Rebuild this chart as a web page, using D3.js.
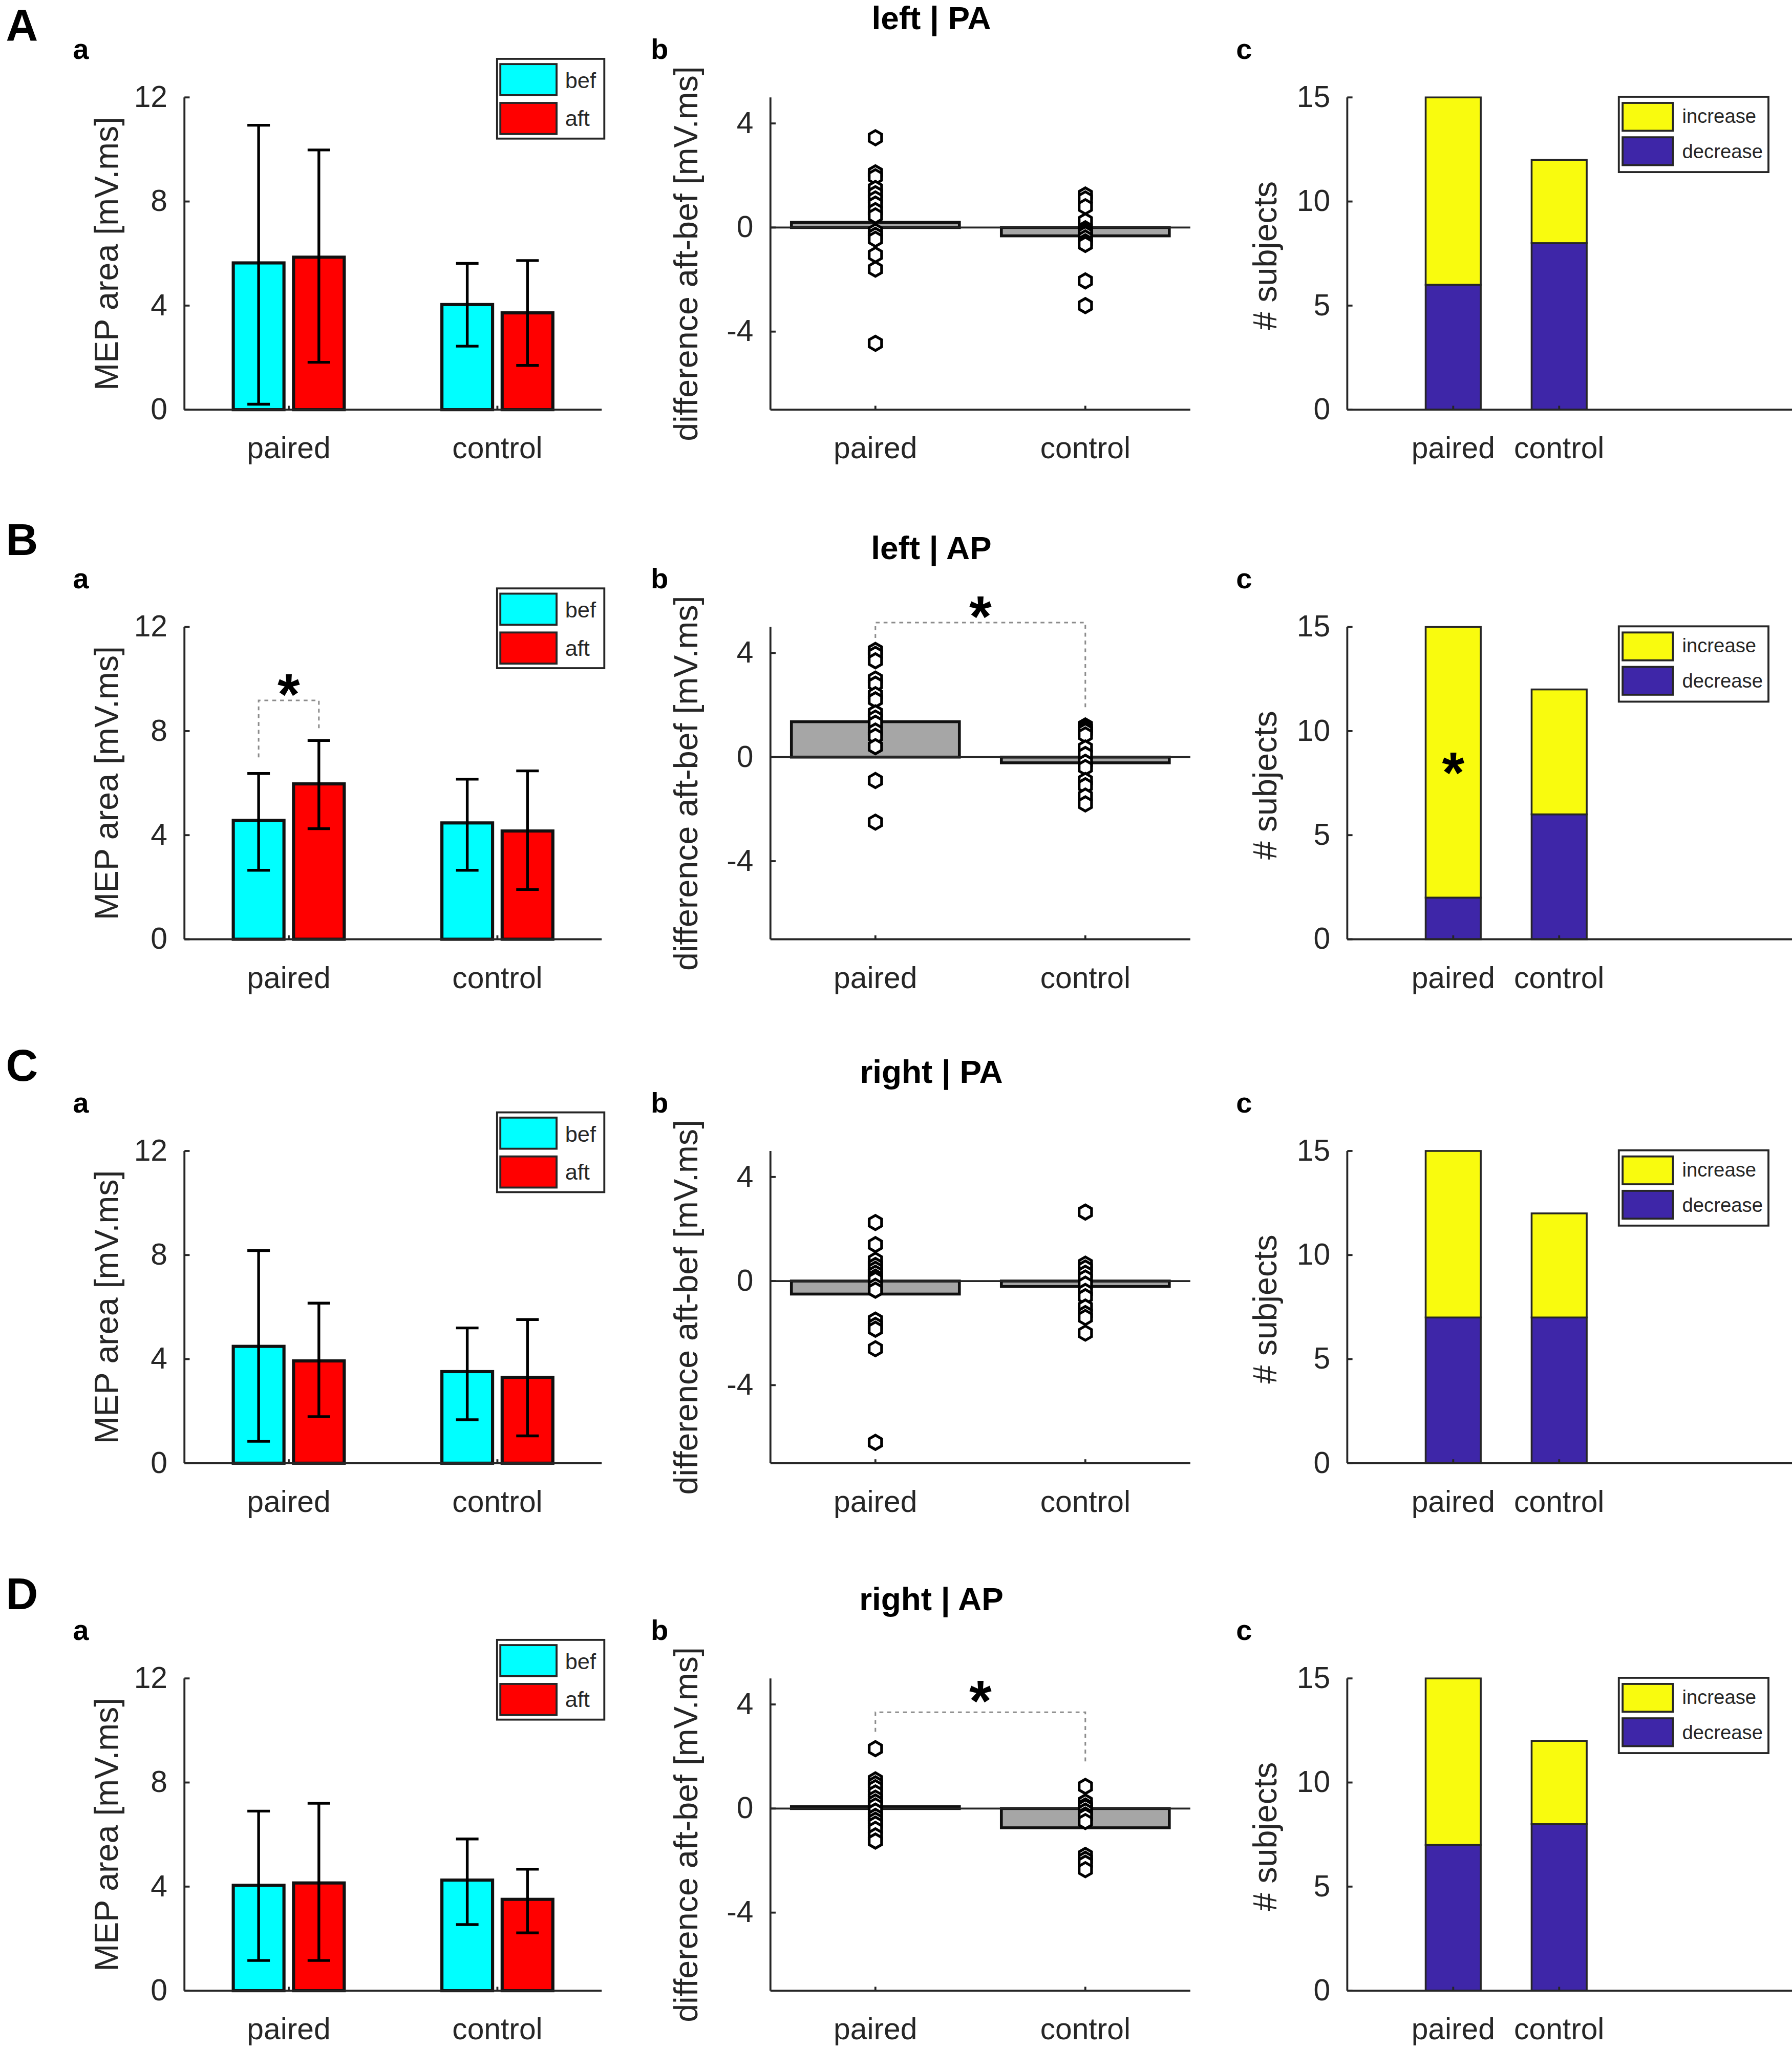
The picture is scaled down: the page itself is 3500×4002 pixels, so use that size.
<!DOCTYPE html>
<html>
<head>
<meta charset="utf-8">
<script src="https://cdn.jsdelivr.net/npm/d3@7"></script>
<style>
  body { margin: 0; background: #ffffff; }
  svg { display: block; }
</style>
</head>
<body>
<svg id="chart" width="3500" height="4002" viewBox="0 0 1370 1567" preserveAspectRatio="none"></svg>
<script>
// ---------------- DATA ----------------
const categories   = ["paired", "control"];
const conditions   = ["bef", "aft"];
const changeTypes  = ["increase", "decrease"];
const rowLetters   = ["A", "B", "C", "D"];
const rowTitles    = ["left | PA", "left | AP", "right | PA", "right | AP"];
const mepTicks     = [0, 4, 8, 12];
const diffTicks    = [-4, 0, 4];
const countTicks   = [0, 5, 10, 15];

// MEP area, per row: [paired, control]
const mepBef      = [[5.64, 4.04], [4.57, 4.47], [4.49, 3.52], [4.05, 4.25]];
const mepAft      = [[5.86, 3.72], [5.97, 4.16], [3.93, 3.30], [4.14, 3.51]];
const mepBefLow   = [[0.21, 2.44], [2.65, 2.65], [0.84, 1.67], [1.16, 2.54]];
const mepBefHigh  = [[10.93, 5.62], [6.37, 6.15], [8.17, 5.20], [6.90, 5.83]];
const mepAftLow   = [[1.82, 1.70], [4.25, 1.91], [1.79, 1.05], [1.16, 2.22]];
const mepAftHigh  = [[9.98, 5.73], [7.64, 6.47], [6.15, 5.52], [7.20, 4.67]];

// differences aft-bef, individual subjects
const diffPaired = [
  [3.45, 2.1, 1.95, 1.5, 1.3, 1.1, 0.9, 0.65, 0.45, -0.15, -0.3, -0.45, -1.05, -1.6, -4.45],
  [4.1, 3.95, 3.7, 3.0, 2.8, 2.4, 2.2, 1.7, 1.5, 1.3, 1.0, 0.8, 0.4, -0.9, -2.5],
  [2.25, 1.4, 0.8, 0.6, 0.45, 0.3, 0.15, 0.05, -0.2, -0.35, -1.5, -1.7, -1.85, -2.6, -6.2],
  [2.3, 1.1, 0.95, 0.8, 0.6, 0.4, 0.25, 0.1, -0.1, -0.3, -0.45, -0.6, -0.8, -1.05, -1.25]
];
const diffControl = [
  [1.25, 1.1, 0.8, 0.25, -0.05, -0.15, -0.25, -0.4, -0.55, -0.65, -2.05, -3.0],
  [1.2, 1.1, 1.0, 0.85, 0.35, 0.1, -0.2, -0.4, -0.9, -1.1, -1.5, -1.8],
  [2.65, 0.65, 0.5, 0.3, 0.12, -0.12, -0.4, -0.6, -1.0, -1.25, -1.4, -2.0],
  [0.85, 0.25, 0.1, 0.05, -0.1, -0.25, -0.3, -0.5, -1.8, -1.95, -2.1, -2.35]
];
const diffMean = [[0.2, -0.32], [1.36, -0.22], [-0.5, -0.21], [0.07, -0.74]];

// number of subjects, per row: [paired, control]
const increaseCount = [[9, 4], [13, 6], [8, 5], [8, 4]];
const decreaseCount = [[6, 8], [2, 6], [7, 7], [7, 8]];

// significance markers (data coordinates)
const sigMep   = [null, { y: 9.18, yLeft: 6.99, yRight: 8.11, star: 9.75 }, null, null];
const sigDiff  = [null, { y: 5.17, yLeft: 4.58, yRight: 1.87, star: 5.74 }, null,
                  { y: 3.70, yLeft: 2.95, yRight: 1.81, star: 4.48 }];
const sigCount = [null, { star: 8.43 }, null, null];

// ---------------- STYLE / LAYOUT ----------------
const FONT = "'Liberation Sans', Arial, Helvetica, sans-serif";
const INK = "#262626";
const condColors = { bef: "#00ffff", aft: "#ff0000" };
const changeColors = { increase: "#f9fb0e", decrease: "#3e26a8" };
const rowTop = [74.5, 479.5, 880.2, 1283.6];
const plotH = 238.8;
const letterBase = [31, 424.5, 826.5, 1230.5];

const svg = d3.select("#chart");
svg.append("rect").attr("width", 1370).attr("height", 1567).attr("fill", "#fff");

function styleAxis(g) {
  g.select(".domain").attr("stroke", INK).attr("stroke-width", 1.5);
  g.selectAll(".tick line").attr("stroke", INK).attr("stroke-width", 1.5);
  g.selectAll(".tick text").attr("fill", INK).attr("font-size", 23).attr("font-family", FONT);
}

function yAxis(g, y, ticks, x0) {
  const ax = g.append("g").attr("transform", `translate(${x0},0)`)
    .call(d3.axisLeft(y).tickValues(ticks).tickFormat(d => String(d))
      .tickSizeInner(-4).tickSizeOuter(0).tickPadding(13).offset(0));
  styleAxis(ax);
}

function xAxis(g, x, y0) {
  const ax = g.append("g").attr("transform", `translate(0,${y0})`)
    .call(d3.axisBottom(x).tickValues([1, 2]).tickFormat((d, i) => categories[i])
      .tickSizeInner(-3).tickSizeOuter(0).tickPadding(21).offset(0));
  styleAxis(ax);
}

function yLabel(g, text, x, yc) {
  g.append("text")
    .attr("transform", `translate(${x},${yc}) rotate(-90)`)
    .attr("text-anchor", "middle")
    .attr("font-family", FONT).attr("font-size", 25.3).attr("fill", INK)
    .text(text);
}

function star(g, x, yCenter) {
  g.append("text").attr("x", x).attr("y", yCenter + 22)
    .attr("text-anchor", "middle").attr("font-family", FONT)
    .attr("font-weight", "bold").attr("font-size", 44).attr("fill", "#000")
    .text("*");
}

function bracket(g, xl, xr, y, yl, yr) {
  g.append("path")
    .attr("d", `M${xl},${yl}V${y}H${xr}V${yr}`)
    .attr("fill", "none").attr("stroke", "#8c8c8c").attr("stroke-width", 1.2)
    .attr("stroke-dasharray", "3,3");
}

// hexagon-like marker (MATLAB 'o' as rendered)
const hexagon = {
  draw(ctx, size) {
    const r = Math.sqrt(2 * size / (3 * Math.sqrt(3)));
    for (let k = 0; k < 6; k++) {
      const a = Math.PI / 2 + k * Math.PI / 3;
      const px = r * Math.cos(a), py = r * Math.sin(a);
      if (k === 0) ctx.moveTo(px, py); else ctx.lineTo(px, py);
    }
    ctx.closePath();
  }
};

// ---------------- PANEL a ----------------
function drawMep(g, r, top, bottom) {
  const x = d3.scaleLinear([0.5, 2.5], [141, 460]);
  const y = d3.scaleLinear([0, 12], [bottom, top]);
  const offsets = { bef: -0.1444, aft: 0.1444 };
  const barW = 0.243, capW = 0.054;
  const series = [
    { key: "bef", mean: mepBef[r], lo: mepBefLow[r], hi: mepBefHigh[r] },
    { key: "aft", mean: mepAft[r], lo: mepAftLow[r], hi: mepAftHigh[r] }
  ];
  series.forEach(s => {
    const items = categories.map((c, i) => ({ i, m: s.mean[i] }));
    g.selectAll(null).data(items).enter().append("rect")
      .attr("x", d => x(d.i + 1 + offsets[s.key] - barW / 2))
      .attr("width", x(barW) - x(0))
      .attr("y", d => y(d.m))
      .attr("height", d => y(0) - y(d.m))
      .attr("fill", condColors[s.key]).attr("stroke", "#111").attr("stroke-width", 2.4);
  });
  series.forEach(s => {
    const items = categories.map((c, i) => ({ i, lo: s.lo[i], hi: s.hi[i] }));
    g.selectAll(null).data(items).enter().append("path")
      .attr("d", d => {
        const cx = x(d.i + 1 + offsets[s.key]);
        const hw = x(capW) - x(0);
        return `M${cx},${y(d.lo)}V${y(d.hi)}M${cx - hw},${y(d.hi)}H${cx + hw}M${cx - hw},${y(d.lo)}H${cx + hw}`;
      })
      .attr("fill", "none").attr("stroke", "#000").attr("stroke-width", 2.1);
  });
  yAxis(g, y, mepTicks, 141);
  xAxis(g, x, bottom);
  yLabel(g, "MEP area [mV.ms]", 90, top + 119.4);

  // legend
  const lg = g.append("g");
  lg.append("rect").attr("x", 380).attr("y", top - 29.5).attr("width", 82).attr("height", 61)
    .attr("fill", "#fff").attr("stroke", INK).attr("stroke-width", 1.5);
  conditions.forEach((c, k) => {
    lg.append("rect").attr("x", 382.5).attr("y", top - 25.5 + k * 29.7).attr("width", 43).attr("height", 23.8)
      .attr("fill", condColors[c]).attr("stroke", INK).attr("stroke-width", 1.5);
    lg.append("text").attr("x", 432).attr("y", top - 7.1 + k * 29).attr("font-family", FONT)
      .attr("font-size", 17).attr("fill", INK).text(c);
  });

  const sg = sigMep[r];
  if (sg) {
    bracket(g, x(1 + offsets.bef), x(1 + offsets.aft), y(sg.y), y(sg.yLeft), y(sg.yRight));
    star(g, x(1), y(sg.star));
  }
}

// ---------------- PANEL b ----------------
function drawDiff(g, r, top, bottom) {
  const x = d3.scaleLinear([0.5, 2.5], [589, 910]);
  const y = d3.scaleLinear([-7, 5], [bottom, top]);
  const barW = 0.8;
  const means = categories.map((c, i) => ({ i, m: diffMean[r][i] }));
  g.selectAll(null).data(means).enter().append("rect")
    .attr("x", d => x(d.i + 1 - barW / 2))
    .attr("width", x(barW) - x(0))
    .attr("y", d => y(Math.max(0, d.m)))
    .attr("height", d => Math.abs(y(0) - y(d.m)))
    .attr("fill", "#a6a6a6").attr("stroke", "#111").attr("stroke-width", 2.2);
  g.append("line").attr("x1", x(0.5)).attr("x2", x(2.5)).attr("y1", y(0)).attr("y2", y(0))
    .attr("stroke", INK).attr("stroke-width", 1.5);

  const pts = [];
  diffPaired[r].forEach(v => pts.push({ i: 0, v }));
  diffControl[r].forEach(v => pts.push({ i: 1, v }));
  const sym = d3.symbol().type(hexagon).size(78);
  g.selectAll(null).data(pts).enter().append("path")
    .attr("transform", d => `translate(${x(d.i + 1)},${y(d.v)})`)
    .attr("d", sym)
    .attr("fill", "#fff").attr("stroke", "#000").attr("stroke-width", 2.1);

  yAxis(g, y, diffTicks, 589);
  xAxis(g, x, bottom);
  yLabel(g, "difference aft-bef [mV.ms]", 533, top + 119.5);

  const sg = sigDiff[r];
  if (sg) {
    bracket(g, x(1), x(2), y(sg.y), y(sg.yLeft), y(sg.yRight));
    star(g, x(1.5), y(sg.star));
  }
}

// ---------------- PANEL c ----------------
function drawCount(g, r, top, bottom) {
  const x = d3.scaleLinear([0, 4.5], [1030, 1394.5]);
  const y = d3.scaleLinear([0, 15], [bottom, top]);
  const barW = 0.52;
  const table = categories.map((c, i) => ({ i, decrease: decreaseCount[r][i], increase: increaseCount[r][i] }));
  const stacked = d3.stack().keys(["decrease", "increase"])(table);
  stacked.forEach(layer => {
    g.selectAll(null).data(layer).enter().append("rect")
      .attr("x", d => x(d.data.i + 1 - barW / 2))
      .attr("width", x(barW) - x(0))
      .attr("y", d => y(d[1]))
      .attr("height", d => y(d[0]) - y(d[1]))
      .attr("fill", changeColors[layer.key]).attr("stroke", INK).attr("stroke-width", 1.4);
  });
  yAxis(g, y, countTicks, 1030);
  xAxis(g, x, bottom);
  yLabel(g, "# subjects", 976, top + 121);

  const lg = g.append("g");
  lg.append("rect").attr("x", 1237.6).attr("y", top - 0.5).attr("width", 114.4).attr("height", 57.6)
    .attr("fill", "#fff").attr("stroke", INK).attr("stroke-width", 1.5);
  changeTypes.forEach((c, k) => {
    lg.append("rect").attr("x", 1240.5).attr("y", top + 4.2 + k * 26.3).attr("width", 38.5).attr("height", 21.3)
      .attr("fill", changeColors[c]).attr("stroke", INK).attr("stroke-width", 1.5);
    lg.append("text").attr("x", 1286).attr("y", top + 19.5 + k * 27).attr("font-family", FONT)
      .attr("font-size", 15).attr("fill", INK).text(c);
  });

  const sg = sigCount[r];
  if (sg) star(g, x(1), y(sg.star));
}

// ---------------- ROWS ----------------
rowTitles.forEach((title, r) => {
  const top = rowTop[r], bottom = top + plotH;
  const g = svg.append("g");
  g.append("text").attr("x", 4.5).attr("y", letterBase[r]).attr("font-family", FONT)
    .attr("font-weight", "bold").attr("font-size", 34).attr("fill", "#000").text(rowLetters[r]);
  g.append("text").attr("x", 712).attr("y", top - 52).attr("text-anchor", "middle")
    .attr("font-family", FONT).attr("font-weight", "bold").attr("font-size", 25).attr("fill", "#000").text(title);
  [["a", 55.7], ["b", 497.5], ["c", 945]].forEach(([t, lx]) => {
    g.append("text").attr("x", lx).attr("y", top - 29.5).attr("font-family", FONT)
      .attr("font-weight", "bold").attr("font-size", 22).attr("fill", "#000").text(t);
  });
  drawMep(g, r, top, bottom);
  drawDiff(g, r, top, bottom);
  drawCount(g, r, top, bottom);
});
</script>
</body>
</html>
